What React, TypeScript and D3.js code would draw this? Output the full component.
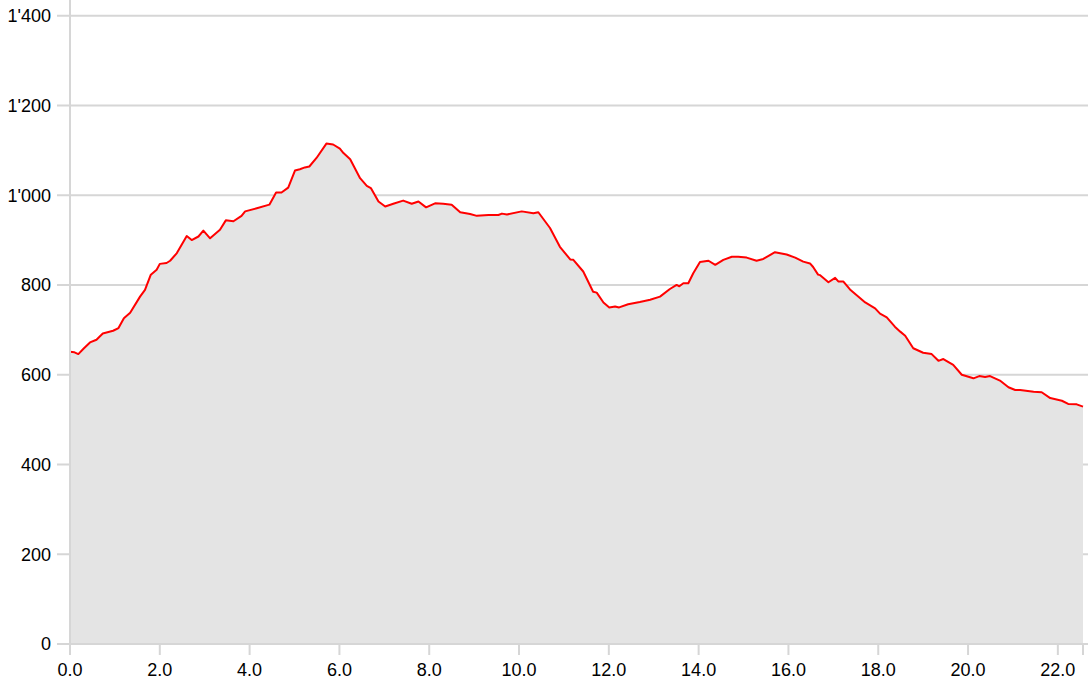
import React from "react";
import * as d3 from "d3";

const distanceKm = [
  0.0, 0.1, 0.185, 0.3, 0.445, 0.59, 0.73, 0.96, 1.08, 1.2, 1.34, 1.56, 1.67, 1.8, 1.93, 2.0, 2.15, 2.23,
  2.38, 2.6, 2.71, 2.86, 2.97, 3.12, 3.34, 3.47, 3.64, 3.82, 3.9, 4.16, 4.44, 4.59, 4.71, 4.86, 5.01, 5.12,
  5.23, 5.33, 5.49, 5.71, 5.86, 6.01, 6.09, 6.24, 6.46, 6.61, 6.7, 6.87, 7.02, 7.2, 7.42, 7.61, 7.76, 7.93,
  8.13, 8.31, 8.5, 8.69, 8.91, 9.06, 9.32, 9.54, 9.62, 9.73, 10.06, 10.32, 10.43, 10.69, 10.91, 11.14, 11.21,
  11.43, 11.65, 11.73, 11.88, 12.01, 12.14, 12.23, 12.43, 12.69, 12.92, 13.14, 13.36, 13.51, 13.57, 13.66,
  13.77, 13.88, 14.03, 14.22, 14.37, 14.55, 14.74, 14.88, 15.07, 15.29, 15.44, 15.7, 15.96, 16.15, 16.33,
  16.48, 16.55, 16.66, 16.7, 16.89, 17.04, 17.11, 17.22, 17.37, 17.56, 17.71, 17.93, 18.04, 18.19, 18.37,
  18.49, 18.6, 18.78, 19.0, 19.19, 19.34, 19.45, 19.67, 19.86, 20.12, 20.25, 20.38, 20.49, 20.71, 20.9,
  21.05, 21.16, 21.46, 21.64, 21.83, 22.09, 22.23, 22.42, 22.56,
];

const elevationM = [
  651, 650, 646, 658, 672, 678, 692, 698, 704, 726, 738, 774, 789, 823, 834, 847, 849, 854,
  871, 909, 900, 908, 921, 904, 923, 944, 942, 954, 964, 971, 979, 1006, 1006, 1017, 1055, 1058,
  1062, 1064, 1083, 1115, 1113, 1104, 1094, 1080, 1038, 1021, 1016, 986, 975, 981, 988, 981, 986, 973,
  982, 981, 979, 962, 958, 954, 956, 956, 959, 957, 964, 960, 962, 927, 885, 857, 856,
  830, 785, 783, 761, 750, 752, 750, 757, 762, 767, 774, 791, 800, 797, 804,
  804, 826, 851, 854, 845, 856, 863, 863, 861, 854, 858, 873, 868, 861, 852,
  848, 840, 823, 822, 806, 816, 808, 808, 790, 774, 761, 748, 736, 728, 707,
  696, 687, 659, 649, 646, 631, 635, 622, 600, 592, 597, 595, 597, 587, 572,
  566, 566, 562, 561, 548, 542, 535, 534, 529,
];

const xTicks = [0, 2, 4, 6, 8, 10, 12, 14, 16, 18, 20, 22];
const yTicks = [0, 200, 400, 600, 800, 1000, 1200, 1400];

const W = 1088;
const H = 685;

const locale = d3.formatLocale({ decimal: ".", thousands: "'", grouping: [3], currency: ["", ""] });
const fmtY = locale.format(",d");
const fmtX = d3.format(".1f");

export default function App() {
  const x = d3.scaleLinear().domain([0, 22.56]).range([70, 1083]);
  const y = d3.scaleLinear().domain([0, 1435]).range([644, 0]);
  const pts = distanceKm.map((d, i) => [d, elevationM[i]] as [number, number]);
  const area = d3
    .area<[number, number]>()
    .x((d) => x(d[0]))
    .y0(y(0))
    .y1((d) => y(d[1]));
  const line = d3
    .line<[number, number]>()
    .x((d) => x(d[0]))
    .y((d) => y(d[1]));
  const grid = "#d6d6d6";
  return (
    <svg
      width={W}
      height={H}
      style={{ position: "absolute", left: 0, top: 0, fontFamily: "Liberation Sans, Arial, sans-serif" }}
    >
      <rect x={0} y={0} width={W} height={H} fill="#ffffff" />
      {yTicks.map((t) => (
        <line key={"g" + t} x1={57} x2={W} y1={y(t)} y2={y(t)} stroke={grid} strokeWidth={2} />
      ))}
      <path d={area(pts) || ""} fill="#e4e4e4" />
      <path d={line(pts) || ""} fill="none" stroke="#ff0000" strokeWidth={2} strokeLinejoin="round" />
      <line x1={70} x2={70} y1={0} y2={655} stroke={grid} strokeWidth={2} />
      <line x1={70} x2={x(22.56)} y1={644} y2={644} stroke={grid} strokeWidth={2} />
      {xTicks.map((t) => (
        <line key={"xt" + t} x1={x(t)} x2={x(t)} y1={644} y2={655} stroke={grid} strokeWidth={2} />
      ))}
      <line x1={x(22.56)} x2={x(22.56)} y1={644} y2={655} stroke={grid} strokeWidth={2} />
      {xTicks.map((t) => (
        <text key={"xl" + t} x={x(t)} y={676} textAnchor="middle" fontSize={18} fill="#000">
          {fmtX(t)}
        </text>
      ))}
      {yTicks.map((t) => (
        <text key={"yl" + t} x={51} y={y(t)} dy="0.35em" textAnchor="end" fontSize={18} fill="#000">
          {fmtY(t)}
        </text>
      ))}
    </svg>
  );
}
